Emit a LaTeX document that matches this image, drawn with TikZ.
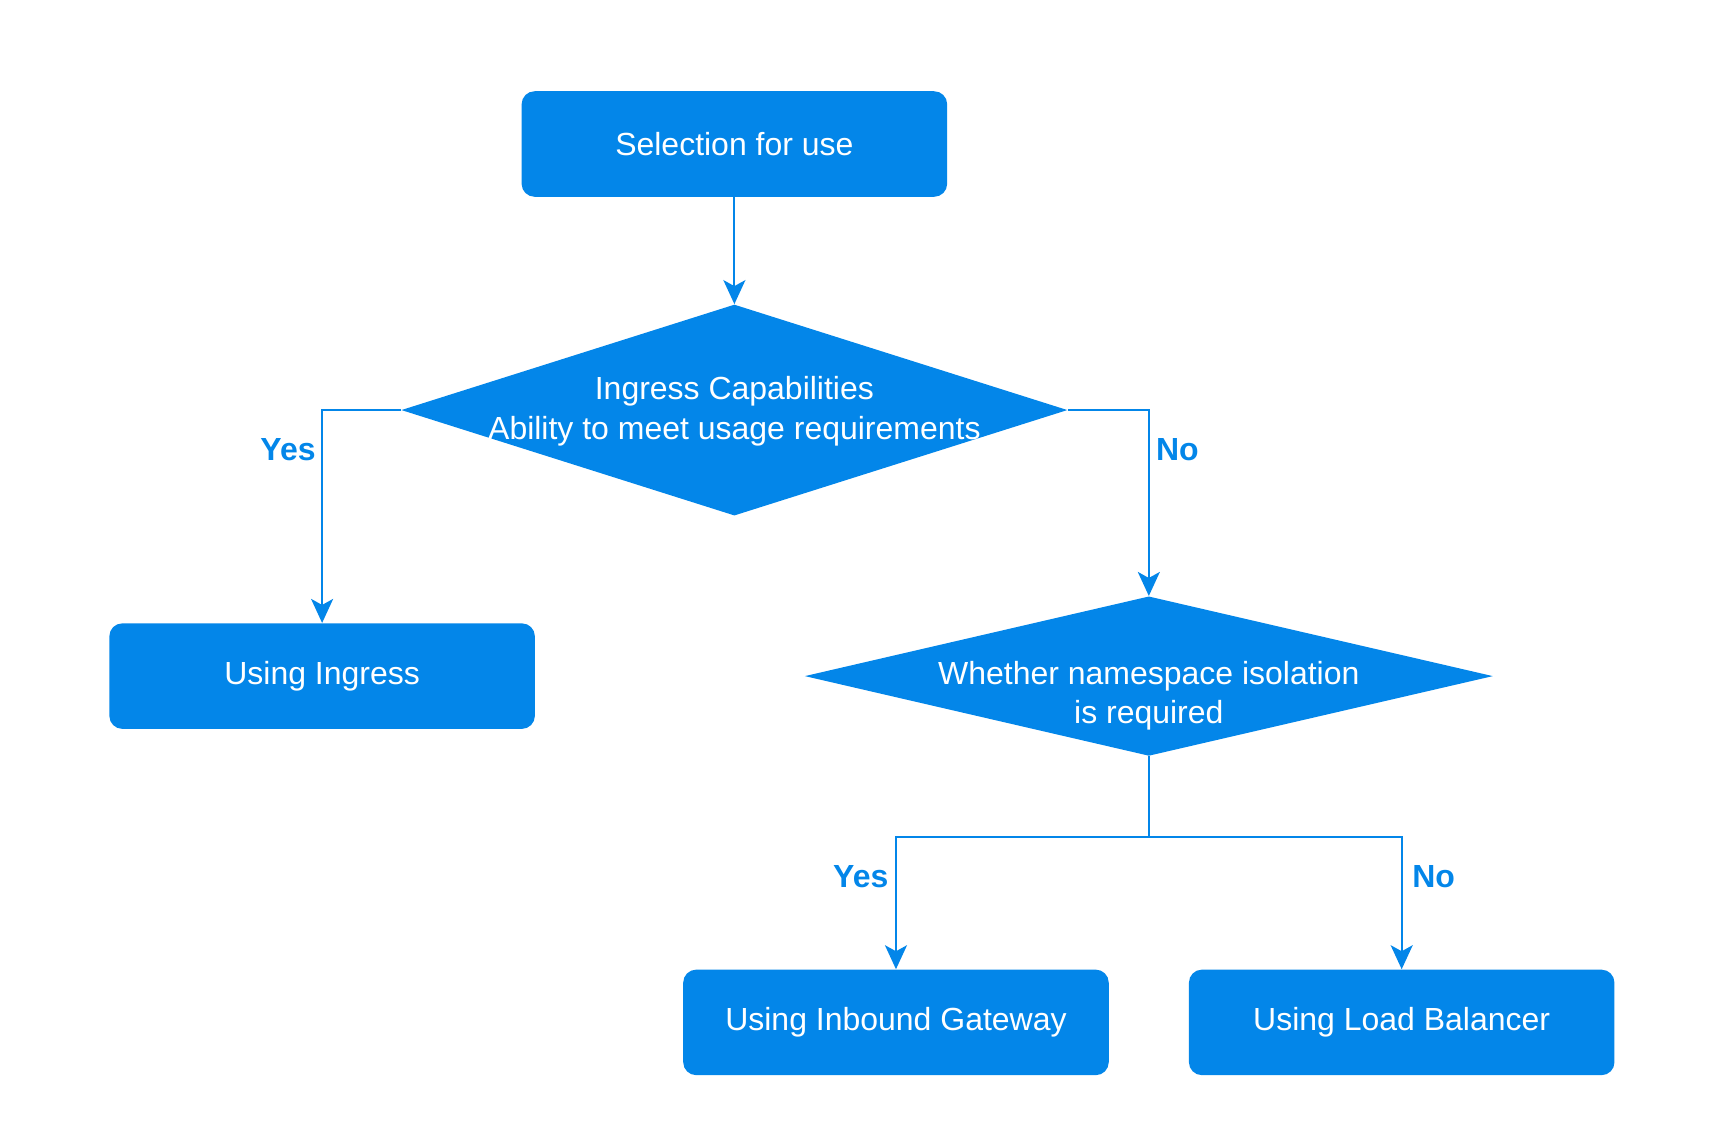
\documentclass[tikz,border=0pt]{standalone}
\usepackage{fontspec}
\setmainfont{Liberation Sans}
\usetikzlibrary{shapes.geometric,arrows.meta}
\definecolor{flowblue}{HTML}{0386E9}

\begin{document}
\begin{tikzpicture}[x=0.55pt,y=-0.55pt,
  step-box/.style={rectangle,rounded corners=6.5pt,fill=flowblue,text=white,minimum width=212.9pt,minimum height=52.8pt,font=\fontsize{16}{19.8}\selectfont},
  decision/.style={diamond,fill=flowblue,inner sep=0pt},
  decision-text/.style={text=white,align=center,font=\fontsize{16}{19.8}\selectfont},
  flow/.style={draw=flowblue,line width=1.1pt,-{Stealth[length=12pt,width=11pt,inset=3pt]}},
  answer/.style={text=flowblue,font=\bfseries\fontsize{16}{19.8}\selectfont}]

\useasboundingbox (0,0) rectangle (1560,1033);

% Nodes
\node[step-box] (selection) at (668,131) {Selection for use};
\node[decision,minimum width=333.3pt,minimum height=105.6pt] (ingress-cap) at (668,373) {};
\node[decision-text] (ingress-cap-text) at (668,374) {Ingress Capabilities\\Ability to meet usage requirements};
\node[step-box] (use-ingress) at (293,615) {Using Ingress};
\node[decision,minimum width=344.3pt,minimum height=79.8pt] (ns-isolation) at (1045,615) {};
\node[decision-text] (ns-isolation-text) at (1045,633) {Whether namespace isolation\\is required};
\node[step-box] (use-gateway) at (815,930) {Using Inbound Gateway};
\node[step-box] (use-lb) at (1275,930) {Using Load Balancer};
\coordinate (ns-fork) at (1045,761);

% The connectors
\draw[flow] (selection.south) -- (ingress-cap.north);
\draw[flow] (ingress-cap.west) -| (use-ingress.north);
\draw[flow] (ingress-cap.east) -| (ns-isolation.north);
\draw[flow,-] (ns-isolation.south) -- (ns-fork);
\draw[flow] (ns-fork) -| (use-gateway.north);
\draw[flow] (ns-fork) -| (use-lb.north);

% Answer labels
\node[answer] (yes-ingress) at (262,409) {Yes};
\node[answer] (no-ingress) at (1071,409) {No};
\node[answer] (yes-ns) at (783,797) {Yes};
\node[answer] (no-ns) at (1304,797) {No};

\end{tikzpicture}
\end{document}
